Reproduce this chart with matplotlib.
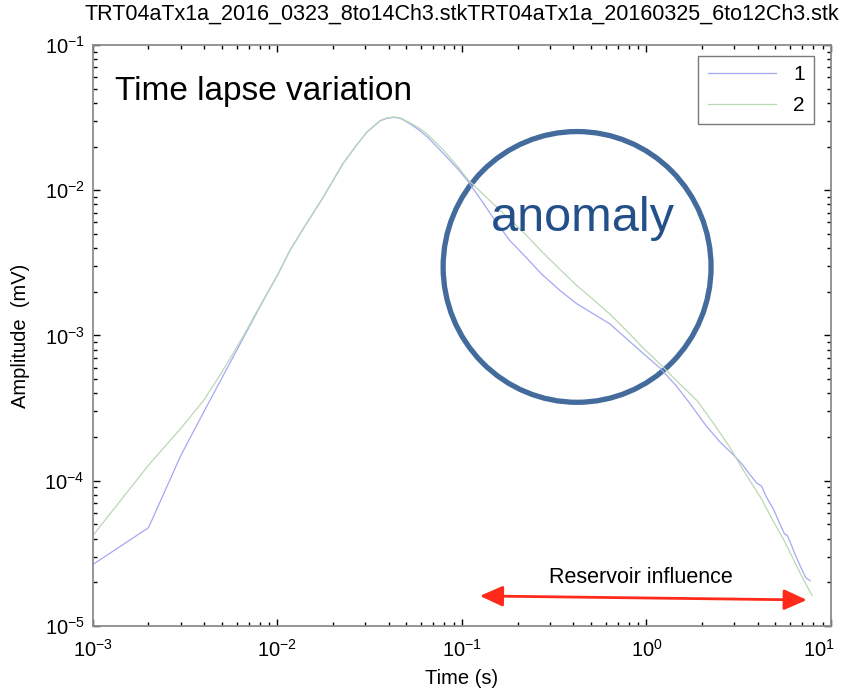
import numpy as np
import matplotlib
matplotlib.use("Agg")
import matplotlib.pyplot as plt
import matplotlib.transforms as mtransforms
from matplotlib.patches import Ellipse

plt.rcParams['font.family'] = ['Liberation Sans', 'DejaVu Sans']
plt.rcParams['mathtext.fontset'] = 'custom'
plt.rcParams['mathtext.rm'] = 'Liberation Sans'
plt.rcParams['mathtext.it'] = 'Liberation Sans'
plt.rcParams['mathtext.default'] = 'regular'

# data
t1 = [0.001, 0.002, 0.003, 0.004, 0.005, 0.0065, 0.008, 0.01, 0.0117, 0.014,
      0.0177, 0.0227, 0.0265, 0.0305, 0.036, 0.039, 0.0423, 0.0445, 0.047, 0.052,
      0.058, 0.0645, 0.079, 0.095, 0.108, 0.13, 0.155, 0.182, 0.22, 0.27,
      0.34, 0.42, 0.52, 0.634, 0.78, 0.95, 1.18, 1.45, 1.72, 2.1,
      2.5, 2.97, 3.3, 3.6, 3.97, 4.2, 4.5, 4.9, 5.3, 5.6,
      5.8, 6.0, 6.4, 6.9, 7.3, 7.7]
amp1 = [2.65e-5, 4.75e-5, 1.5e-4, 3.0e-4, 5.1e-4, 9.5e-4, 1.56e-3, 2.6e-3, 3.86e-3, 5.6e-3,
        8.95e-3, 1.53e-2, 2.0e-2, 2.51e-2, 3.0e-2, 3.12e-2, 3.17e-2, 3.16e-2, 3.1e-2, 2.88e-2,
        2.62e-2, 2.35e-2, 1.8e-2, 1.4e-2, 1.15e-2, 8.2e-3, 5.9e-3, 4.5e-3, 3.5e-3, 2.65e-3,
        2.04e-3, 1.65e-3, 1.4e-3, 1.2e-3, 9.5e-4, 7.6e-4, 6.0e-4, 4.5e-4, 3.4e-4, 2.4e-4,
        1.85e-4, 1.5e-4, 1.3e-4, 1.12e-4, 9.6e-5, 9.2e-5, 7.6e-5, 6.3e-5, 5.0e-5, 4.3e-5,
        4.2e-5, 3.8e-5, 3.1e-5, 2.5e-5, 2.15e-5, 2.05e-5]

t2 = [0.001, 0.002, 0.003, 0.004, 0.005, 0.0065, 0.008, 0.01, 0.0117, 0.014,
      0.0177, 0.0227, 0.0265, 0.0305, 0.036, 0.039, 0.0423, 0.0445, 0.047, 0.052,
      0.058, 0.0645, 0.079, 0.095, 0.108, 0.13, 0.155, 0.182, 0.22, 0.27,
      0.34, 0.42, 0.52, 0.634, 0.78, 0.95, 1.18, 1.45, 1.88, 2.3,
      2.84, 3.2, 3.64, 4.2, 4.85, 5.5, 6.2, 7.0, 7.9]
amp2 = [4.2e-5, 1.28e-4, 2.3e-4, 3.6e-4, 5.6e-4, 9.8e-4, 1.58e-3, 2.6e-3, 3.86e-3, 5.6e-3,
        8.95e-3, 1.53e-2, 2.0e-2, 2.51e-2, 3.02e-2, 3.14e-2, 3.19e-2, 3.18e-2, 3.12e-2, 2.92e-2,
        2.7e-2, 2.45e-2, 1.9e-2, 1.45e-2, 1.18e-2, 9.4e-3, 7.6e-3, 6.3e-3, 5.0e-3, 3.8e-3,
        2.85e-3, 2.2e-3, 1.75e-3, 1.4e-3, 1.08e-3, 8.3e-4, 6.4e-4, 4.9e-4, 3.56e-4, 2.5e-4,
        1.69e-4, 1.3e-4, 1.0e-4, 7.5e-5, 5.3e-5, 4.0e-5, 2.95e-5, 2.15e-5, 1.62e-5]

labels = ['1', '2']

fig = plt.figure(figsize=(8.45, 6.9), dpi=100)
ax = fig.add_axes([0.110, 0.0928, 0.8734, 0.842])

ax.plot(t1, amp1, color='#a4a8f4', lw=0.9, label=labels[0])
ax.plot(t2, amp2, color='#b9d8b4', lw=0.9, label=labels[1])

ax.set_xscale('log')
ax.set_yscale('log')
ax.set_xlim(1e-3, 10)
ax.set_ylim(1e-5, 1e-1)
ax.set_xticks([1e-3, 1e-2, 1e-1, 1, 10])
ax.set_yticks([1e-5, 1e-4, 1e-3, 1e-2, 1e-1])

for s in ax.spines.values():
    s.set_color('#8c8c8c')
    s.set_linewidth(1.3)
ax.tick_params(which='both', direction='in', top=True, right=True, color='black', labelsize=14.5)
ax.tick_params(which='major', length=5, width=1)
ax.tick_params(which='minor', length=3, width=1)
ax.tick_params(axis='x', pad=9)
ax.tick_params(axis='y', pad=6)

# last x label sits a bit left like the original, so it stays inside the figure
lab = ax.get_xticklabels()[-1]
lab.set_transform(lab.get_transform() + mtransforms.ScaledTranslation(-9 / 72, 0, fig.dpi_scale_trans))

ax.set_xlabel('Time (s)', fontsize=14.5, labelpad=6)
ax.set_ylabel('Amplitude  (mV)', fontsize=14.5, labelpad=10)
ax.set_title('TRT04aTx1a_2016_0323_8to14Ch3.stkTRT04aTx1a_20160325_6to12Ch3.stk',
             fontsize=15.5, pad=18)

leg = ax.legend(loc='upper right', bbox_to_anchor=(0.977, 0.981), borderaxespad=0,
                fontsize=15, handlelength=3.3, fancybox=False, framealpha=1,
                edgecolor='#7a7a7a', labelspacing=0.55,
                borderpad=0.45, handletextpad=0.8)
leg.get_frame().set_linewidth(1.0)

ax.text(0.03, 0.905, 'Time lapse variation', transform=ax.transAxes, fontsize=24,
        va='baseline', ha='left')

ax.add_patch(Ellipse((0.656, 0.618), 0.363, 0.466, transform=ax.transAxes,
                     fill=False, edgecolor='#436b9b', lw=3.8))
ax.text(0.664, 0.680, 'anomaly', transform=ax.transAxes, fontsize=35,
        color='#24508a', ha='center', va='baseline')

ax.annotate('', xy=(7.4, 1.51e-5), xytext=(0.125, 1.61e-5),
            arrowprops=dict(arrowstyle='<|-|>,head_length=1.0,head_width=0.45',
                            mutation_scale=14, color='#ff2a1a', lw=2,
                            shrinkA=0, shrinkB=0))
ax.text(0.742, 0.074, 'Reservoir influence', transform=ax.transAxes, fontsize=15.5,
        ha='center', va='baseline')

fig.savefig('out.png', dpi=100)
